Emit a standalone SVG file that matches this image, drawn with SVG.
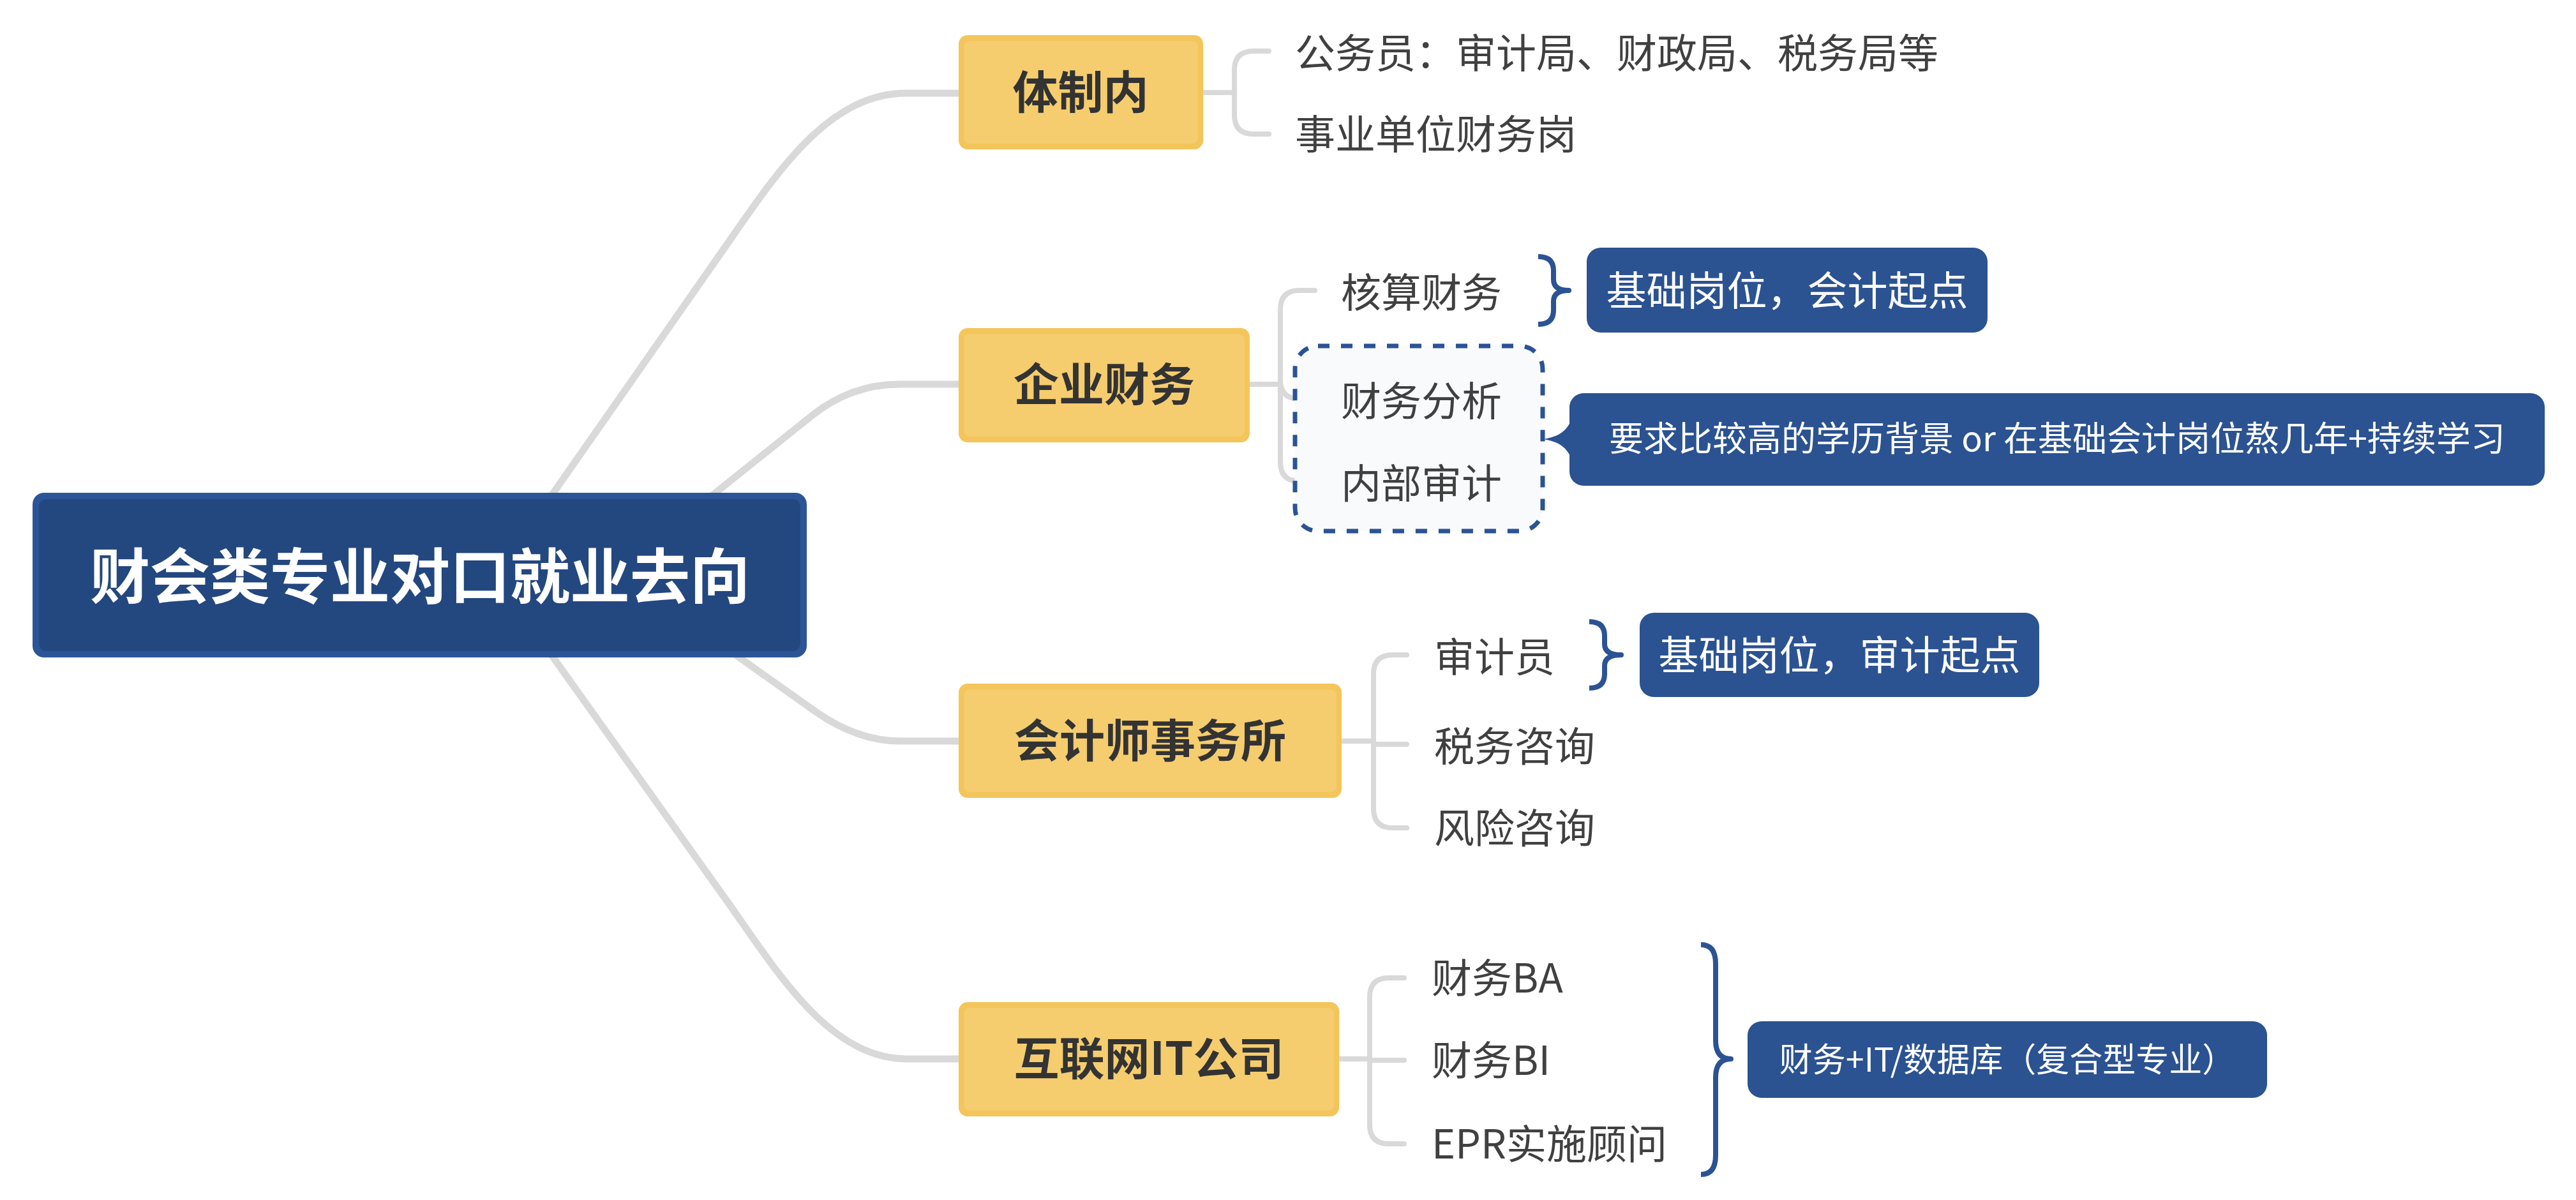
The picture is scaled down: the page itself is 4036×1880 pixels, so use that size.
<svg xmlns="http://www.w3.org/2000/svg" width="4036" height="1880" viewBox="0 0 4036 1880">
<style>
  .bg{fill:#FFFFFF}
  .main{fill:none;stroke:#D9D9D9;stroke-width:11;stroke-linecap:round;stroke-linejoin:round}
  .sub{fill:none;stroke:#D9D9D9;stroke-width:8;stroke-linecap:round;stroke-linejoin:round}
  .brace{fill:none;stroke:#2B5394;stroke-width:8;stroke-linecap:butt;stroke-linejoin:round}
  .rootOuter{fill:#2B5597}
  .rootInner{fill:#23477F}
  .yOuter{fill:#F3C55A}
  .yInner{fill:#F5CD6F}
  .blue{fill:#2B5291}
  .dash{fill:#F8FAFC;stroke:#2B5394;stroke-width:7;stroke-dasharray:18 18}
  text{font-family:"Noto Sans CJK SC","Noto Sans",sans-serif}
  .tRoot{font-size:94px;font-weight:700;fill:#FFFFFF;text-anchor:middle}
  .tMain{font-size:71px;font-weight:700;fill:#333333;text-anchor:middle}
  .tChild{font-size:63px;fill:#404040}
  .tBox{font-size:63px;fill:#FFFFFF;text-anchor:middle}
  .tNote{font-size:54px;fill:#FFFFFF;text-anchor:middle}
</style>
<rect class="bg" x="0" y="0" width="4036" height="1880"/>

<g id="connectors">
  <path class="main" d="M 777 901 L 1141 380 C 1220 266, 1300 146, 1420 146 L 1502 146"/>
  <path class="main" d="M 961 900 L 1271 652 Q 1333 602 1410 602 L 1502 602"/>
  <path class="main" d="M 975 900 L 1278 1115 Q 1344 1161 1410 1161 L 1502 1161"/>
  <path class="main" d="M 774 900 L 1145 1420 C 1225 1535, 1305 1659, 1420 1659 L 1502 1659"/>
  <path class="sub" d="M 1885 145 H 1934 M 1988 80 H 1964 Q 1934 80 1934 110 V 180 Q 1934 210 1964 210 H 1988"/>
  <path class="sub" d="M 1958 602 H 2006 M 2060 455 H 2036 Q 2006 455 2006 485 V 724 Q 2006 754 2036 754 H 2060 M 2006 595 Q 2006 625 2036 625 H 2060"/>
  <path class="sub" d="M 2102 1161 H 2152 M 2204 1026 H 2182 Q 2152 1026 2152 1056 V 1267 Q 2152 1297 2182 1297 H 2204 M 2152 1166 H 2204"/>
  <path class="sub" d="M 2098 1659 H 2146 M 2200 1532 H 2176 Q 2146 1532 2146 1562 V 1762 Q 2146 1792 2176 1792 H 2200 M 2146 1661 H 2200"/>
  <path class="brace" d="M 2410 402 Q 2434 402 2434 424 V 438 Q 2434 455 2458 455 Q 2434 455 2434 472 V 486 Q 2434 508 2410 508"/>
  <path class="brace" d="M 2490 974 Q 2514 974 2514 996 V 1009 Q 2514 1026 2540 1026 Q 2514 1026 2514 1043 V 1056 Q 2514 1078 2490 1078"/>
  <path class="brace" d="M 2665 1480 Q 2688 1480 2688 1510 V 1630 Q 2688 1659 2712 1659 Q 2688 1659 2688 1688 V 1810 Q 2688 1840 2665 1840"/>
</g>

<g id="root">
  <rect class="rootOuter" x="51" y="772" width="1213" height="258" rx="18"/>
  <rect class="rootInner" x="61" y="782" width="1193" height="238" rx="12"/>
  <text class="tRoot" x="658" y="938">财会类专业对口就业去向</text>
</g>

<g id="n-tizhinei">
  <rect class="yOuter" x="1502" y="55" width="383" height="179" rx="14"/>
  <rect class="yInner" x="1510" y="64" width="367" height="161" rx="9"/>
  <text class="tMain" x="1693" y="170">体制内</text>
</g>
<g id="n-qiye">
  <rect class="yOuter" x="1502" y="514" width="456" height="179" rx="14"/>
  <rect class="yInner" x="1510" y="523" width="440" height="161" rx="9"/>
  <text class="tMain" x="1730" y="628">企业财务</text>
</g>
<g id="n-kuaiji">
  <rect class="yOuter" x="1502" y="1071" width="600" height="179" rx="14"/>
  <rect class="yInner" x="1510" y="1080" width="584" height="161" rx="9"/>
  <text class="tMain" x="1802" y="1186">会计师事务所</text>
</g>
<g id="n-hulian">
  <rect class="yOuter" x="1502" y="1570" width="596" height="179" rx="14"/>
  <rect class="yInner" x="1510" y="1579" width="580" height="161" rx="9"/>
  <text class="tMain" x="1800" y="1684">互联网IT公司</text>
</g>

<g id="c-gwy"><text class="tChild" x="2029" y="106">公务员：审计局、财政局、税务局等</text></g>
<g id="c-sydw"><text class="tChild" x="2029" y="233">事业单位财务岗</text></g>

<g id="boundary-qiye"><rect class="dash" x="2029" y="542" width="388" height="290" rx="36"/></g>
<g id="c-hesuan"><text class="tChild" x="2101" y="481">核算财务</text></g>
<g id="c-fenxi"><text class="tChild" x="2101" y="651">财务分析</text></g>
<g id="c-neishen"><text class="tChild" x="2101" y="780">内部审计</text></g>

<g id="s-kuaiji-qidian">
  <rect class="blue" x="2486" y="388" width="628" height="133" rx="22"/>
  <text class="tBox" x="2800" y="478">基础岗位，会计起点</text>
</g>
<g id="callout-xueli">
  <path class="blue" d="M 2464 652 C 2456 676, 2442 684, 2418 688 C 2442 692, 2456 700, 2464 724 Z"/>
  <rect class="blue" x="2459" y="616" width="1528" height="145" rx="22"/>
  <text class="tNote" x="3223" y="707">要求比较高的学历背景 or 在基础会计岗位熬几年+持续学习</text>
</g>

<g id="c-shenji"><text class="tChild" x="2247" y="1052">审计员</text></g>
<g id="c-shuiwu"><text class="tChild" x="2247" y="1192">税务咨询</text></g>
<g id="c-fengxian"><text class="tChild" x="2247" y="1320">风险咨询</text></g>
<g id="s-shenji-qidian">
  <rect class="blue" x="2569" y="960" width="626" height="132" rx="22"/>
  <text class="tBox" x="2882" y="1049">基础岗位，审计起点</text>
</g>

<g id="c-ba"><text class="tChild" x="2243" y="1555">财务BA</text></g>
<g id="c-bi"><text class="tChild" x="2243" y="1684">财务BI</text></g>
<g id="c-epr"><text class="tChild" x="2243" y="1815">EPR实施顾问</text></g>
<g id="s-fuhe">
  <rect class="blue" x="2738" y="1600" width="814" height="120" rx="22"/>
  <text class="tNote" x="3145" y="1679" style="font-size:52px">财务+IT/数据库（复合型专业）</text>
</g>
</svg>
